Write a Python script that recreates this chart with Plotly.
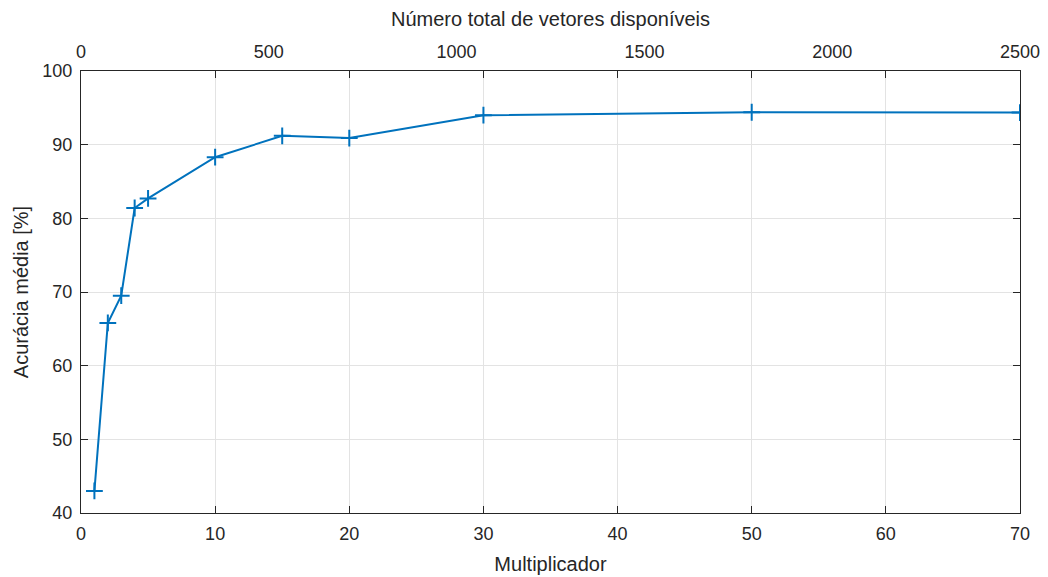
import plotly.graph_objects as go

# Multiplier applied to the base set and the resulting mean accuracy
multiplicador = [1, 2, 3, 4, 5, 10, 15, 20, 30, 50, 70]
acuracia = [43.0, 65.8, 69.5, 81.4, 82.7, 88.3, 91.2, 90.9, 94.0, 94.4, 94.35]

# Secondary (top) axis: total number of available vectors
total_max = 2500
top_ticks = [0, 500, 1000, 1500, 2000, 2500]
bottom_ticks = [0, 10, 20, 30, 40, 50, 60, 70]
y_ticks = [40, 50, 60, 70, 80, 90, 100]

blue = "#0072BD"
font_family = "Liberation Sans, Arial, sans-serif"
axis_color = "#262626"
grid_color = "#e3e3e3"

fig = go.Figure()
fig.add_trace(go.Scatter(
    x=multiplicador, y=acuracia,
    mode="lines+markers",
    line=dict(color=blue, width=2),
    marker=dict(symbol="cross-thin", size=12, line=dict(color=blue, width=2)),
    showlegend=False,
))
# invisible trace that anchors the top axis
fig.add_trace(go.Scatter(
    x=[0, total_max], y=[None, None], xaxis="x2", yaxis="y",
    mode="markers", showlegend=False, hoverinfo="skip",
))

fig.update_layout(
    width=1048, height=577,
    margin=dict(l=81, r=28, t=71, b=64),
    paper_bgcolor="white", plot_bgcolor="white",
    font=dict(family=font_family, size=18, color=axis_color),
    xaxis=dict(
        range=[0, 70], tickvals=bottom_ticks,
        showgrid=True, gridcolor=grid_color, gridwidth=1,
        zeroline=False, automargin=False,
        showline=True, linecolor=axis_color, linewidth=1, mirror="ticks",
        ticks="inside", ticklen=7, tickcolor=axis_color,
        ticklabelstandoff=4,
        title=dict(text="Multiplicador", font=dict(size=20), standoff=14),
    ),
    xaxis2=dict(
        range=[0, total_max], tickvals=top_ticks,
        overlaying="x", side="top", anchor="y",
        showgrid=False, zeroline=False, showline=False, automargin=False,
        ticks="", ticklen=0,
        ticklabelstandoff=8,
        title=dict(text="Número total de vetores disponíveis", font=dict(size=20), standoff=10),
    ),
    yaxis=dict(
        range=[40, 100], tickvals=y_ticks,
        showgrid=True, gridcolor=grid_color, gridwidth=1,
        zeroline=False, automargin=False,
        showline=True, linecolor=axis_color, linewidth=1, mirror="ticks",
        ticks="inside", ticklen=7, tickcolor=axis_color,
        ticklabelstandoff=4,
        title=dict(text="Acurácia média [%]", font=dict(size=20), standoff=8),
    ),
)

fig.write_html("out.html")
